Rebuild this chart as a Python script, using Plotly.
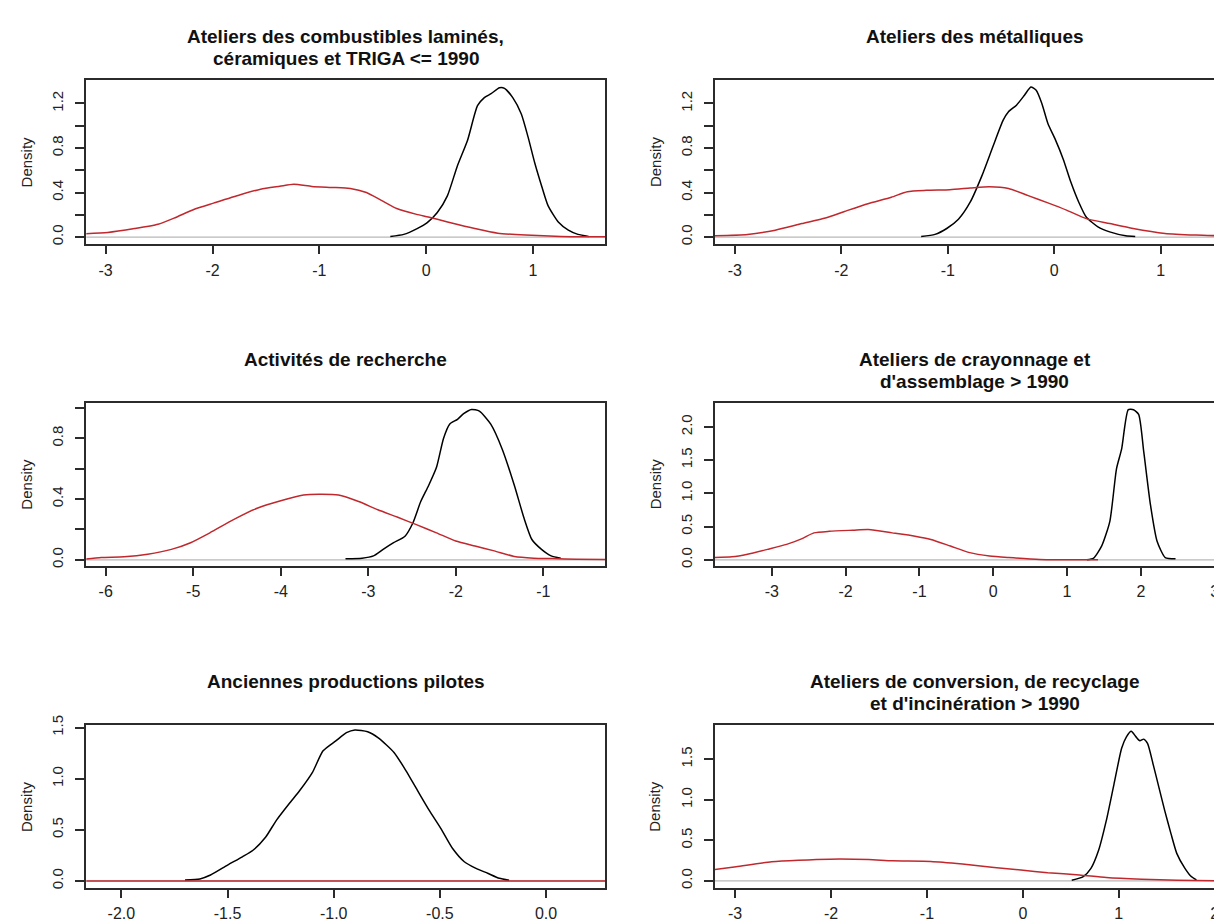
import plotly.graph_objects as go

W, H = 1222, 920

# ---------------- data ----------------
titles = [
    ["Ateliers des combustibles laminés,", "céramiques et TRIGA <= 1990"],
    ["Ateliers des métalliques"],
    ["Activités de recherche"],
    ["Ateliers de crayonnage et", "d'assemblage > 1990"],
    ["Anciennes productions pilotes"],
    ["Ateliers de conversion, de recyclage", "et d'incinération > 1990"],
]

# Panel 1
p1_black_x = [-0.336, -0.21, -0.085, 0.01, 0.104, 0.198, 0.29, 0.387, 0.48, 0.544, 0.607, 0.686, 0.733,
              0.81, 0.89, 0.953, 1.016, 1.08, 1.14, 1.236, 1.33, 1.42, 1.52]
p1_black_y = [0.006, 0.024, 0.076, 0.13, 0.22, 0.37, 0.635, 0.87, 1.18, 1.253, 1.288, 1.341, 1.335,
              1.253, 1.106, 0.9, 0.665, 0.459, 0.282, 0.135, 0.062, 0.024, 0.006]
p1_red_x = [-3.2, -2.98, -2.73, -2.51, -2.36, -2.17, -1.99, -1.74, -1.55, -1.37, -1.24, -1.07, -0.89,
            -0.71, -0.56, -0.42, -0.27, -0.09, 0.02, 0.2, 0.455, 0.67, 0.93, 1.26, 1.7]
p1_red_y = [0.03, 0.041, 0.076, 0.115, 0.17, 0.25, 0.305, 0.38, 0.43, 0.456, 0.474, 0.455, 0.446,
            0.437, 0.4, 0.33, 0.254, 0.204, 0.18, 0.136, 0.077, 0.035, 0.018, 0.006, 0.002]

# Panel 2
p2_black_x = [-1.25, -1.12, -1.01, -0.9, -0.79, -0.68, -0.575, -0.48, -0.43, -0.355, -0.28, -0.22,
              -0.17, -0.117, -0.06, 0.01, 0.084, 0.157, 0.23, 0.3, 0.41, 0.52, 0.67, 0.76]
p2_black_y = [0.006, 0.024, 0.077, 0.16, 0.313, 0.55, 0.816, 1.05, 1.126, 1.185, 1.274, 1.348,
              1.318, 1.2, 1.02, 0.875, 0.7, 0.49, 0.313, 0.18, 0.092, 0.047, 0.012, 0.006]
p2_red_x = [-3.2, -2.88, -2.62, -2.37, -2.15, -1.97, -1.75, -1.53, -1.38, -1.2, -0.98, -0.79, -0.61,
            -0.43, -0.245, -0.06, 0.12, 0.3, 0.52, 0.74, 1.04, 1.33, 1.7]
p2_red_y = [0.012, 0.024, 0.062, 0.121, 0.171, 0.23, 0.3, 0.358, 0.408, 0.42, 0.426, 0.44, 0.452,
            0.437, 0.372, 0.307, 0.24, 0.166, 0.121, 0.077, 0.033, 0.018, 0.008]

# Panel 3
p3_black_x = [-3.26, -3.07, -2.94, -2.83, -2.71, -2.58, -2.49, -2.4, -2.31, -2.22, -2.14, -2.07,
              -1.98, -1.91, -1.82, -1.73, -1.6, -1.47, -1.33, -1.22, -1.13, -1.02, -0.91, -0.8]
p3_black_y = [0.007, 0.011, 0.026, 0.069, 0.113, 0.156, 0.243, 0.384, 0.49, 0.61, 0.8, 0.894,
              0.926, 0.963, 0.991, 0.98, 0.894, 0.731, 0.49, 0.275, 0.134, 0.069, 0.026, 0.011]
p3_red_x = [-6.25, -6.05, -5.79, -5.52, -5.25, -5.03, -4.81, -4.54, -4.27, -4.01, -3.74, -3.56,
            -3.34, -3.11, -2.89, -2.67, -2.45, -2.22, -2.0, -1.78, -1.56, -1.33, -1.11, -0.89,
            -0.62, -0.28]
p3_red_y = [0.004, 0.015, 0.02, 0.037, 0.069, 0.113, 0.178, 0.265, 0.34, 0.388, 0.427, 0.432,
            0.427, 0.384, 0.33, 0.282, 0.232, 0.178, 0.124, 0.091, 0.059, 0.022, 0.011, 0.008,
            0.004, 0.002]

# Panel 4
p4_black_x = [1.27, 1.36, 1.47, 1.58, 1.67, 1.74, 1.83, 1.9, 1.97, 2.04, 2.13, 2.22, 2.33, 2.47]
p4_black_y = [0.0, 0.025, 0.21, 0.58, 1.37, 1.67, 2.26, 2.26, 2.19, 1.62, 0.83, 0.28, 0.035, 0.015]
p4_red_x = [-3.8, -3.54, -3.33, -3.06, -2.8, -2.59, -2.43, -2.22, -1.9, -1.69, -1.37, -1.06,
            -0.845, -0.58, -0.32, -0.05, 0.21, 0.63, 1.0, 1.42]
p4_red_y = [0.035, 0.045, 0.084, 0.158, 0.233, 0.32, 0.406, 0.43, 0.446, 0.455, 0.406, 0.356,
            0.307, 0.208, 0.109, 0.059, 0.035, 0.005, 0.0, 0.0]

# Panel 5
p5_black_x = [-1.7, -1.63, -1.58, -1.5, -1.43, -1.38, -1.32, -1.27, -1.21, -1.16, -1.1, -1.05,
              -0.99, -0.94, -0.9, -0.84, -0.79, -0.716, -0.66, -0.605, -0.55, -0.495, -0.44,
              -0.385, -0.33, -0.275, -0.22, -0.174]
p5_black_y = [0.01, 0.02, 0.058, 0.155, 0.236, 0.3, 0.43, 0.593, 0.755, 0.884, 1.062, 1.273,
              1.37, 1.45, 1.477, 1.46, 1.4, 1.257, 1.08, 0.884, 0.69, 0.512, 0.317, 0.188, 0.123,
              0.075, 0.026, 0.006]
p5_red_x = [-2.2, -1.5, -1.0, -0.5, 0.0, 0.3]
p5_red_y = [0.0, 0.0, 0.0, 0.0, 0.0, 0.0]

# Panel 6
p6_black_x = [0.51, 0.63, 0.71, 0.79, 0.87, 0.95, 1.03, 1.08, 1.13, 1.18, 1.22, 1.26, 1.3, 1.36,
              1.42, 1.48, 1.545, 1.606, 1.69, 1.75, 1.81]
p6_black_y = [0.008, 0.053, 0.154, 0.377, 0.742, 1.19, 1.634, 1.775, 1.844, 1.775, 1.727, 1.747,
              1.694, 1.43, 1.147, 0.863, 0.58, 0.336, 0.154, 0.061, 0.012]
p6_red_x = [-3.25, -2.99, -2.62, -2.34, -2.01, -1.61, -1.36, -0.96, -0.63, -0.3, -0.02, 0.26, 0.59,
            0.87, 1.24, 1.61, 2.2]
p6_red_y = [0.134, 0.174, 0.235, 0.255, 0.268, 0.263, 0.247, 0.239, 0.207, 0.166, 0.134, 0.101,
            0.073, 0.041, 0.02, 0.008, 0.0]

# tick values / labels
p1_xticks = [-3, -2, -1, 0, 1]
p1_yticks = [0, 0.2, 0.4, 0.6, 0.8, 1.0, 1.2]
p1_ylabels = ["0.0", "", "0.4", "", "0.8", "", "1.2"]
p2_xticks = [-3, -2, -1, 0, 1]
p3_xticks = [-6, -5, -4, -3, -2, -1]
p3_yticks = [0, 0.2, 0.4, 0.6, 0.8, 1.0]
p3_ylabels = ["0.0", "", "0.4", "", "0.8", ""]
p4_xticks = [-3, -2, -1, 0, 1, 2, 3]
p4_yticks = [0, 0.5, 1.0, 1.5, 2.0]
p4_ylabels = ["0.0", "0.5", "1.0", "1.5", "2.0"]
p5_xticks = [-2.0, -1.5, -1.0, -0.5, 0.0]
p5_xlabels = ["-2.0", "-1.5", "-1.0", "-0.5", "0.0"]
p5_yticks = [0, 0.5, 1.0, 1.5]
p5_ylabels = ["0.0", "0.5", "1.0", "1.5"]
p6_xticks = [-3, -2, -1, 0, 1, 2]
p6_yticks = [0, 0.5, 1.0, 1.5]
p6_ylabels = ["0.0", "0.5", "1.0", "1.5"]

# ---------------- layout geometry (pixels) ----------------
FONT = "Liberation Sans, Arial, sans-serif"
BOX = "#2b2b2b"
RED = "#c0282d"

col_px = [(78.3, 597.3), (707.0, 1222.0)]
row_px = [(62.7, 229.3), (390.0, 555.0), (716.7, 881.7)]

panels = [
    dict(bx=p1_black_x, by=p1_black_y, rx=p1_red_x, ry=p1_red_y, xr=[-3.181, 1.676], yr=[-0.065, 1.412],
         xt=p1_xticks, xl=[str(v) for v in p1_xticks], yt=p1_yticks, yl=p1_ylabels),
    dict(bx=p2_black_x, by=p2_black_y, rx=p2_red_x, ry=p2_red_y, xr=[-3.186, 1.650], yr=[-0.065, 1.412],
         xt=p2_xticks, xl=[str(v) for v in p2_xticks], yt=p1_yticks, yl=p1_ylabels),
    dict(bx=p3_black_x, by=p3_black_y, rx=p3_red_x, ry=p3_red_y, xr=[-6.222, -0.291], yr=[-0.039, 1.034],
         xt=p3_xticks, xl=[str(v) for v in p3_xticks], yt=p3_yticks, yl=p3_ylabels),
    dict(bx=p4_black_x, by=p4_black_y, rx=p4_red_x, ry=p4_red_y, xr=[-3.77, 3.208], yr=[-0.089, 2.362],
         xt=p4_xticks, xl=[str(v) for v in p4_xticks], yt=p4_yticks, yl=p4_ylabels),
    dict(bx=p5_black_x, by=p5_black_y, rx=p5_red_x, ry=p5_red_y, xr=[-2.165, 0.279], yr=[-0.071, 1.522],
         xt=p5_xticks, xl=p5_xlabels, yt=p5_yticks, yl=p5_ylabels),
    dict(bx=p6_black_x, by=p6_black_y, rx=p6_red_x, ry=p6_red_y, xr=[-3.21, 2.16], yr=[-0.09, 1.917],
         xt=p6_xticks, xl=[str(v) for v in p6_xticks], yt=p6_yticks, yl=p6_ylabels),
]

fig = go.Figure()
layout = dict(width=W, height=H, margin=dict(l=0, r=0, t=0, b=0),
              paper_bgcolor="white", plot_bgcolor="white", showlegend=False,
              font=dict(family=FONT, color="#222222"))
annotations = []
shapes = []

for i, p in enumerate(panels):
    r, c = divmod(i, 2)
    x0, x1 = col_px[c]
    y0, y1 = row_px[r]
    n = i + 1
    xa = "x" if n == 1 else f"x{n}"
    ya = "y" if n == 1 else f"y{n}"
    xkey = "xaxis" if n == 1 else f"xaxis{n}"
    ykey = "yaxis" if n == 1 else f"yaxis{n}"

    layout[xkey] = dict(domain=[x0 / W, x1 / W], range=p["xr"], anchor=ya,
                        showgrid=False, zeroline=False, showline=True, mirror=True,
                        linecolor=BOX, linewidth=2, ticks="outside", ticklen=8, tickwidth=1.5,
                        tickcolor=BOX, tickmode="array", tickvals=p["xt"], ticktext=p["xl"],
                        ticklabelstandoff=2, ticklabeloverflow="allow",
                        tickfont=dict(size=16, family=FONT, color="#222222"), fixedrange=True)
    layout[ykey] = dict(domain=[1 - y1 / H, 1 - y0 / H], range=p["yr"], anchor=xa,
                        showgrid=False, zeroline=False, showline=True, mirror=(c == 0),
                        linecolor=BOX, linewidth=2, ticks="outside", ticklen=9, tickwidth=1.5,
                        tickcolor=BOX, tickmode="array", tickvals=p["yt"], ticktext=p["yl"],
                        ticklabelstandoff=6, ticklabeloverflow="allow",
                        tickangle=-90, tickfont=dict(size=15, family=FONT, color="#222222"),
                        fixedrange=True)

    # grey zero line
    shapes.append(dict(type="line", xref=f"{xa} domain", yref=ya, x0=0, x1=1, y0=0, y1=0,
                       line=dict(color="#b8b8b8", width=1.2), layer="below"))

    fig.add_trace(go.Scatter(x=p["bx"], y=p["by"], mode="lines", xaxis=xa, yaxis=ya,
                             line=dict(color="black", width=1.5, shape="spline", smoothing=0.6),
                             hoverinfo="skip"))
    fig.add_trace(go.Scatter(x=p["rx"], y=p["ry"], mode="lines", xaxis=xa, yaxis=ya,
                             line=dict(color=RED, width=1.5, shape="spline", smoothing=0.6),
                             hoverinfo="skip"))

    # titles (one annotation per line)
    cx = ((x0 + (x1 if c == 0 else 1226.0)) / 2) / W
    for k, line in enumerate(titles[i]):
        ty = y0 - 44 + 22 * k
        annotations.append(dict(text=f"<b>{line}</b>", x=cx, y=1 - ty / H, xref="paper", yref="paper",
                                xanchor="center", yanchor="middle", showarrow=False,
                                font=dict(size=19, family=FONT, color="#111111")))
    # Density label
    annotations.append(dict(text="Density", x=(x0 - 60) / W, y=1 - ((y0 + y1) / 2) / H,
                            xref="paper", yref="paper", xanchor="center", yanchor="middle",
                            textangle=-90, showarrow=False,
                            font=dict(size=15, family=FONT, color="#222222")))

layout["annotations"] = annotations
layout["shapes"] = shapes
fig.update_layout(**layout)

fig.write_html("out.html")
